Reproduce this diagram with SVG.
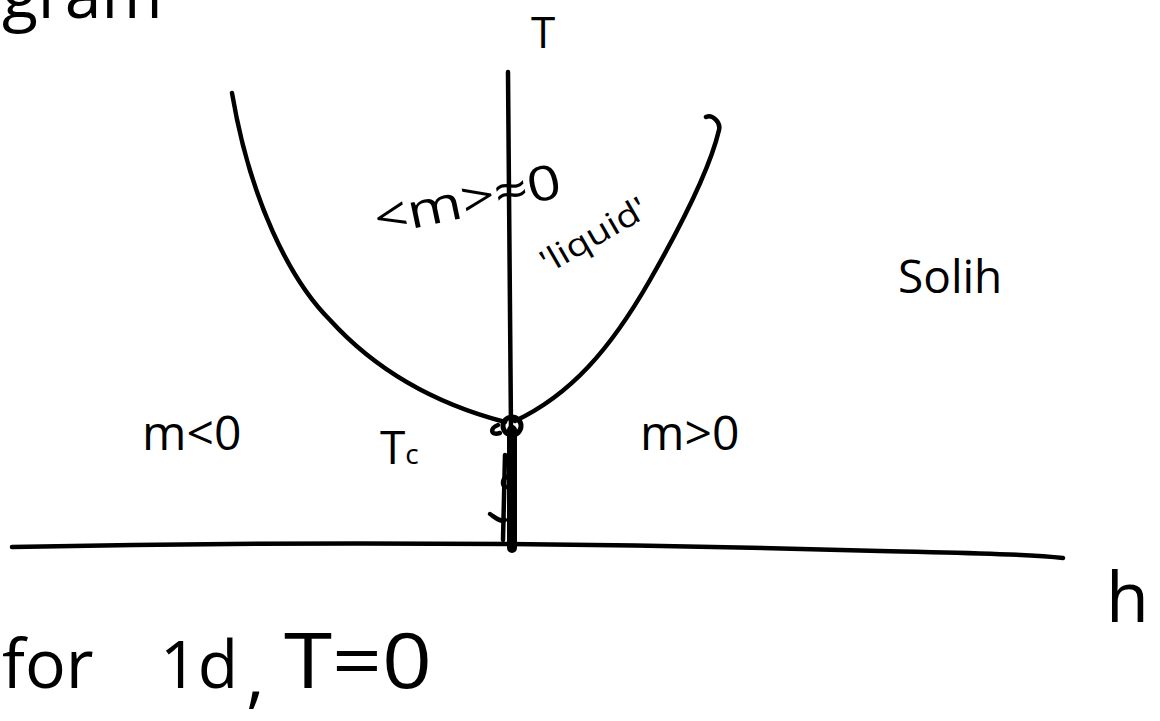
<svg xmlns="http://www.w3.org/2000/svg" width="1160" height="721" viewBox="0 0 1160 721">
<style>
.ln{fill:none;stroke:#000;stroke-width:4.5;stroke-linecap:round;stroke-linejoin:round}
.tx{font-family:"Open Sans","DejaVu Sans",sans-serif;fill:#000}
</style>
<rect width="1160" height="721" fill="#fff"/>
<g id="axes">
<path class="ln" d="M508,72 C509,200 510,320 512,548"/>
<path class="ln" d="M12,547 C300,541 600,543 880,551 C960,553 1020,553 1063,558"/>
</g>
<g id="curve">
<path class="ln" d="M232,93 C250,200 290,280 330,320 C380,375 440,405 505,422"/>
<path class="ln" d="M515,421 C570,395 610,350 650,280 C690,210 712,160 719,130 C721,122 712,114 706,117"/>
</g>
<g id="critical">
<circle cx="512" cy="426" r="9" fill="none" stroke="#000" stroke-width="5"/>
<path class="ln" d="M498,425 C490,428 490,436 500,433"/>
<path d="M512,430 L512,548" stroke="#000" stroke-width="10" stroke-linecap="round"/>
<path class="ln" d="M505,455 L503,540"/>
<path class="ln" d="M506,477 C502,480 502,486 506,487"/>
<path class="ln" d="M490,514 C496,518 500,522 505,520"/>
</g>
<g id="labels">
<text class="tx" x="2" y="18" font-size="66">gram</text>
<text class="tx" x="531" y="48" font-size="44">T</text>
<text class="tx" x="378" y="236" font-size="48" textLength="190" lengthAdjust="spacingAndGlyphs" transform="rotate(-12 378 236)">&lt;m&gt;≈0</text>
<text class="tx" x="548" y="274" font-size="32" textLength="118" lengthAdjust="spacingAndGlyphs" transform="rotate(-30 548 274)">'liquid'</text>
<text class="tx" x="898" y="293" font-size="46">Solih</text>
<text class="tx" x="142" y="450" font-size="48">m&lt;0</text>
<text class="tx" x="380" y="464" font-size="46">T<tspan font-size="28">c</tspan></text>
<text class="tx" x="640" y="450" font-size="48">m&gt;0</text>
<text class="tx" x="1106" y="622" font-size="70">h</text>
<text class="tx" x="2" y="688" font-size="68">for</text>
<text class="tx" x="160" y="688" font-size="66">1d</text>
<text class="tx" x="246" y="700" font-size="72">,</text>
<text class="tx" x="284" y="688" font-size="76" textLength="148" lengthAdjust="spacingAndGlyphs">T=0</text>
</g>
</svg>
